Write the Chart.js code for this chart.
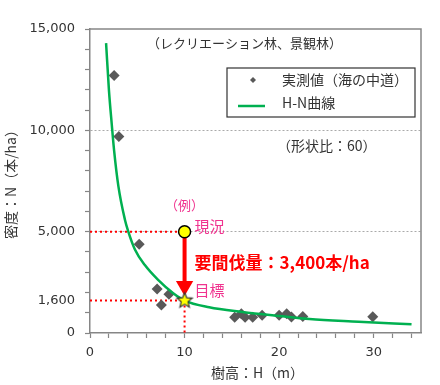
<!DOCTYPE html>
<html lang="ja">
<head>
<meta charset="UTF-8">
<title>H-N曲線</title>
<script src="https://cdn.jsdelivr.net/npm/chart.js"></script>
<style>
  html, body { margin: 0; padding: 0; background: #fff; }
  canvas { display: block; }
</style>
</head>
<body>
<canvas id="hnChart" width="440" height="385"></canvas>
<script>
// observed stands (height m, density trees/ha)
const obsH = [2.55, 3.05, 5.2, 7.1, 7.55, 8.35, 15.3, 16.0, 16.4, 17.2, 18.2, 20.0, 20.8, 21.3, 22.5, 29.9];
const obsN = [12700, 9700, 4380, 2170, 1380, 1910, 780, 950, 780, 780, 880, 880, 950, 790, 810, 800];

// H-N curve
const curveH = [1.7, 2.0, 2.3, 2.55, 3.0, 3.7, 4.0, 4.75, 5.8, 7.2, 8.8, 10, 12.6, 16.1, 20, 23.2, 28.4, 34];
const curveN = [14300, 12000, 10300, 9000, 7250, 5580, 5080, 4120, 3350, 2620, 1960, 1600, 1270, 1040, 840, 690, 560, 430];

// example: current -> target
const exampleH = 10;
const currentN = 5000;
const targetN = 1600;
const arrowHeadN = 2320;

const yLabelTicks = [0, 1600, 5000, 10000, 15000];
const yGridTicks = [5000, 10000];
const xLabelTicks = [0, 10, 20, 30];

const FONT = "'Noto Sans CJK JP', 'Noto Sans', sans-serif";
const NUMFONT = "'DejaVu Sans', sans-serif";
const PINK = '#f0338f';
const AXIS = '#868686';
Chart.defaults.font.family = FONT;
Chart.defaults.color = '#333';

function makeStar(r) {
  const c = document.createElement('canvas');
  c.width = c.height = Math.ceil(2 * r + 4);
  const g = c.getContext('2d');
  const cx = c.width / 2, cy = c.height / 2;
  g.beginPath();
  for (let i = 0; i < 10; i++) {
    const rr = i % 2 ? r * 0.45 : r;
    const a = -Math.PI / 2 + i * Math.PI / 5;
    g.lineTo(cx + rr * Math.cos(a), cy + rr * Math.sin(a));
  }
  g.closePath();
  g.fillStyle = '#ffff00';
  g.fill();
  g.lineWidth = 1.2;
  g.strokeStyle = '#333';
  g.stroke();
  return c;
}

const pts = (xs, ys) => xs.map((x, i) => ({ x: x, y: ys[i] }));

const redDotted = {
  showLine: true, borderColor: '#ff0000', borderWidth: 2, borderDash: [2, 3],
  pointRadius: 0, order: 9
};

const labelsPlugin = {
  id: 'labels',
  beforeDatasetsDraw(chart) {
    const { ctx, chartArea: ca } = chart;
    ctx.save();
    ctx.strokeStyle = AXIS;
    ctx.lineWidth = 1.5;
    ctx.beginPath();
    ctx.moveTo(ca.left, ca.top);
    ctx.lineTo(ca.right, ca.top);
    ctx.lineTo(ca.right, ca.bottom);
    ctx.stroke();
    ctx.restore();
  },
  afterDatasetsDraw(chart) {
    const { ctx, chartArea: ca, scales: { x, y } } = chart;
    ctx.save();
    ctx.textBaseline = 'middle';

    // title inside plot
    ctx.fillStyle = '#333';
    ctx.font = '13px ' + FONT;
    ctx.textAlign = 'left';
    ctx.fillText('（レクリエーション林、景観林）', ca.left + 57, ca.top + 14);

    // legend box
    const lx = ca.right - 194, ly = ca.top + 39;
    ctx.strokeStyle = '#333';
    ctx.lineWidth = 1.2;
    ctx.strokeRect(lx, ly, 188, 49);
    ctx.fillStyle = '#595959';
    ctx.beginPath();
    ctx.moveTo(lx + 26, ly + 9);
    ctx.lineTo(lx + 29, ly + 12);
    ctx.lineTo(lx + 26, ly + 15);
    ctx.lineTo(lx + 23, ly + 12);
    ctx.closePath();
    ctx.fill();
    ctx.strokeStyle = '#00b050';
    ctx.lineWidth = 2.5;
    ctx.beginPath();
    ctx.moveTo(lx + 11, ly + 38);
    ctx.lineTo(lx + 38, ly + 38);
    ctx.stroke();
    ctx.fillStyle = '#333';
    ctx.font = '14px ' + FONT;
    ctx.fillText('実測値（海の中道）', lx + 55, ly + 12);
    ctx.fillText('H-N曲線', lx + 55, ly + 35);

    ctx.fillText('（形状比：60）', lx + 50, ca.top + 117);

    // example annotations
    const px = x.getPixelForValue(exampleH);
    const pc = y.getPixelForValue(currentN);
    const pt = y.getPixelForValue(targetN);
    ctx.fillStyle = PINK;
    ctx.font = '13px ' + FONT;
    ctx.textAlign = 'center';
    ctx.fillText('（例）', px, pc - 27);
    ctx.textAlign = 'left';
    ctx.font = '15px ' + FONT;
    ctx.fillText('現況', px + 10, pc - 5);
    ctx.fillText('目標', px + 10, pt - 10);
    ctx.fillStyle = '#ff0000';
    ctx.font = 'bold 17px ' + FONT;
    ctx.fillText('要間伐量：3,400本/ha', px + 10, (pc + pt) / 2 - 4);

    // axis titles
    ctx.fillStyle = '#333';
    ctx.font = '14px ' + FONT;
    ctx.textAlign = 'center';
    ctx.fillText('樹高：H（m）', (ca.left + ca.right) / 2 + 2, 373);
    ctx.translate(11, 181);
    ctx.rotate(-Math.PI / 2);
    ctx.fillText('密度：N（本/ha）', 0, 0);
    ctx.restore();
  }
};

new Chart(document.getElementById('hnChart'), {
  type: 'scatter',
  data: {
    datasets: [
      {
        label: 'target', data: [{ x: exampleH, y: targetN }],
        pointStyle: makeStar(8), pointRadius: 8, order: 0
      },
      {
        label: 'current', data: [{ x: exampleH, y: currentN }],
        pointRadius: 6, backgroundColor: '#ffff00', borderColor: '#000', borderWidth: 1.5, order: 1
      },
      {
        label: 'arrow head', data: [{ x: exampleH, y: arrowHeadN }],
        pointStyle: 'triangle', rotation: 180, pointRadius: 10,
        backgroundColor: '#ff0000', borderColor: '#ff0000', borderWidth: 0, order: 2
      },
      {
        label: 'arrow', data: pts([exampleH, exampleH], [currentN, arrowHeadN]),
        showLine: true, borderColor: '#ff0000', borderWidth: 4, pointRadius: 0, order: 3
      },
      {
        label: 'H-N曲線', data: pts(curveH, curveN),
        showLine: true, borderColor: '#00b050', borderWidth: 2.5, pointRadius: 0,
        cubicInterpolationMode: 'monotone', order: 4
      },
      {
        label: '実測値（海の中道）', data: pts(obsH, obsN),
        pointStyle: 'rectRot', pointRadius: 5.5,
        backgroundColor: '#595959', borderColor: '#595959', borderWidth: 0, order: 5
      },
      Object.assign({ label: 'now h', data: pts([0, exampleH], [currentN, currentN]) }, redDotted),
      Object.assign({ label: 'target h', data: pts([0, exampleH], [targetN, targetN]) }, redDotted),
      Object.assign({ label: 'target v', data: pts([exampleH, exampleH], [targetN, 0]) }, redDotted)
    ]
  },
  options: {
    responsive: false,
    animation: false,
    layout: { padding: { top: 29, right: 19, left: 0, bottom: 0 } },
    plugins: { legend: { display: false }, tooltip: { enabled: false } },
    scales: {
      x: {
        type: 'linear', min: 0, max: 35,
        afterBuildTicks: s => {
          const t = [];
          for (let v = 0; v <= 34; v += 2) t.push({ value: v });
          s.ticks = t;
        },
        ticks: {
          callback: v => xLabelTicks.includes(v) ? String(v) : '',
          autoSkip: false, maxRotation: 0, padding: 7,
          font: { family: NUMFONT, size: 13 }, color: '#333'
        },
        grid: { drawOnChartArea: false, tickLength: 5, tickColor: AXIS, tickWidth: 1.2 },
        border: { color: AXIS, width: 1.5 },
        afterFit: s => { s.height = 52; }
      },
      y: {
        type: 'linear', min: 0, max: 15000,
        afterBuildTicks: s => {
          const t = [];
          for (let v = 0; v <= 15000; v += 1000) t.push({ value: v });
          t.push({ value: 1600 });
          t.sort((a, b) => a.value - b.value);
          s.ticks = t;
        },
        ticks: {
          callback: v => yLabelTicks.includes(v) ? v.toLocaleString('en-US') : '',
          autoSkip: false, padding: 10,
          font: { family: NUMFONT, size: 13 }, color: '#333'
        },
        grid: {
          color: c => (c.tick && yGridTicks.includes(c.tick.value)) ? '#aaaaaa' : 'transparent',
          tickColor: c => (c.tick && c.tick.value === targetN) ? 'transparent' : AXIS,
          tickLength: 5, tickWidth: 1.2, tickBorderDash: []
        },
        border: { color: AXIS, width: 1.5, dash: [2, 2] },
        afterFit: s => { s.width = 90; }
      }
    }
  },
  plugins: [labelsPlugin]
});
</script>
</body>
</html>
